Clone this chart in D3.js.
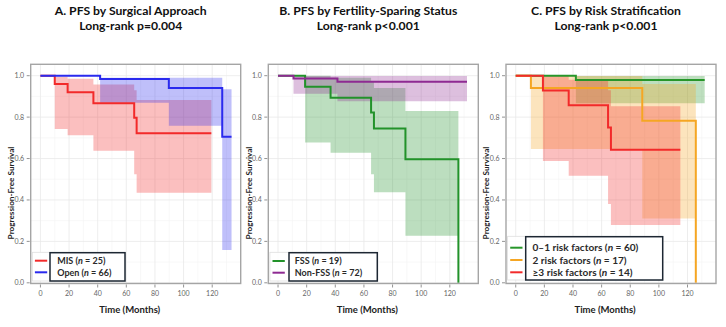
<!DOCTYPE html>
<html>
<head>
<meta charset="utf-8">
<script src="https://cdn.jsdelivr.net/npm/d3@7"></script>
<style>
  body { margin: 0; background: #fff; }
  svg { display: block; font-family: Lato, "Open Sans", sans-serif; }
  .km-tick { font-size: 7px; fill: #666; }
  .km-bold { font-weight: 700; fill: #222; }
</style>
</head>
<body>
<div id="km-container"></div>
<script>
// ---- data ----
const xTicks = [0, 20, 40, 60, 80, 100, 120];
const yTicks = [0, 0.2, 0.4, 0.6, 0.8, 1.0];

// A. surgical approach
const misTimes = [0, 10, 19, 37, 65.5, 67.2];
const misSurv = [1, 0.96, 0.92, 0.867, 0.797, 0.722];
const misEnd = 119.4;
const misCiTimes = [10, 19, 37, 65.5, 67.2];
const misCiLow = [0.743, 0.713, 0.638, 0.524, 0.435];
const misCiHigh = [0.995, 0.985, 0.958, 0.93, 0.883];

const openTimes = [0, 41.7, 89.7, 127];
const openSurv = [1, 0.984, 0.94, 0.705];
const openEnd = 133.5;
const openCiTimes = [41.7, 89.7, 127];
const openCiLow = [0.869, 0.758, 0.158];
const openCiHigh = [0.99, 0.99, 0.935];

// B. fertility-sparing
const fssTimes = [0, 18.9, 36.7, 65, 67, 89, 126];
const fssSurv = [1, 0.947, 0.894, 0.822, 0.745, 0.596, 0];
const fssEnd = 126;
const fssCiTimes = [18.9, 36.7, 65, 67, 89];
const fssCiLow = [0.678, 0.628, 0.524, 0.437, 0.227];
const fssCiHigh = [1.0, 0.99, 0.97, 0.94, 0.83];

const nonFssTimes = [0, 10.8, 41.5];
const nonFssSurv = [1, 0.986, 0.971];
const nonFssEnd = 132;
const nonFssCiTimes = [10.8, 41.5];
const nonFssCiLow = [0.913, 0.877];
const nonFssCiHigh = [0.998, 0.998];

// C. risk stratification
const lowRiskTimes = [0, 42];
const lowRiskSurv = [1, 0.979];
const lowRiskEnd = 132;
const lowRiskCiTimes = [42];
const lowRiskCiLow = [0.867];
const lowRiskCiHigh = [0.998];

const midRiskTimes = [0, 10.6, 88.4, 125.8];
const midRiskSurv = [1, 0.941, 0.783, 0];
const midRiskEnd = 125.8;
const midRiskCiTimes = [10.6, 88.4];
const midRiskCiLow = [0.646, 0.311];
const midRiskCiHigh = [0.998, 0.96];

const highRiskTimes = [0, 19, 37, 64.5, 66.5];
const highRiskSurv = [1, 0.929, 0.857, 0.75, 0.643];
const highRiskEnd = 115;
const highRiskCiTimes = [19, 37, 64.5, 66.5];
const highRiskCiLow = [0.588, 0.517, 0.38, 0.279];
const highRiskCiHigh = [0.998, 0.98, 0.93, 0.853];

// ---- layout ----
const width = 726;
const height = 327;
const frameWidth = 210;
const frameTop = 64.3;
const frameBottom = 283.5;
const frameLefts = [30.7, 268.3, 506];

function series (name, n, color, times, surv, end, ciTimes, ciLow, ciHigh) {
    return { name, n, color, times, surv, end, ciTimes, ciLow, ciHigh };
}

const panels = [
    {
        title: 'A. PFS by Surgical Approach',
        subtitle: 'Long-rank p=0.004',
        legendFont: 9,
        legendBox: [19.3, 94.3, 252.7, 281],
        legendRows: [260.7, 272.3],
        series: [
            series('MIS', 25, '#f22a2a', misTimes, misSurv, misEnd, misCiTimes, misCiLow, misCiHigh),
            series('Open', 66, '#2a2aee', openTimes, openSurv, openEnd, openCiTimes, openCiLow, openCiHigh)
        ]
    },
    {
        title: 'B. PFS by Fertility-Sparing Status',
        subtitle: 'Long-rank p<0.001',
        legendFont: 9,
        legendBox: [20.7, 109, 252.7, 281],
        legendRows: [261, 272.7],
        series: [
            series('FSS', 19, '#22922a', fssTimes, fssSurv, fssEnd, fssCiTimes, fssCiLow, fssCiHigh),
            series('Non-FSS', 72, '#8e2a92', nonFssTimes, nonFssSurv, nonFssEnd, nonFssCiTimes, nonFssCiLow, nonFssCiHigh)
        ]
    },
    {
        title: 'C. PFS by Risk Stratification',
        subtitle: 'Long-rank p<0.001',
        legendFont: 10.1,
        legendBox: [19.7, 156.7, 236.7, 280],
        legendRows: [247.7, 260, 272.3],
        series: [
            series('0\u20131 risk factors', 60, '#27962a', lowRiskTimes, lowRiskSurv, lowRiskEnd, lowRiskCiTimes, lowRiskCiLow, lowRiskCiHigh),
            series('2 risk factors', 17, '#f5a623', midRiskTimes, midRiskSurv, midRiskEnd, midRiskCiTimes, midRiskCiLow, midRiskCiHigh),
            series('\u22653 risk factors', 14, '#f22a2a', highRiskTimes, highRiskSurv, highRiskEnd, highRiskCiTimes, highRiskCiLow, highRiskCiHigh)
        ]
    }
];

const svg = d3.select('#km-container').append('svg')
    .attr('width', width)
    .attr('height', height);

const yScale = d3.scaleLinear().domain([0, 1.055]).range([282.8, frameTop]);

function drawPanel (panel, fx) {
    const g = svg.append('g');
    const xScale = d3.scaleLinear().domain([-6.8, 139.9]).range([fx, fx + frameWidth]);

    // grid
    const minorX = d3.range(10, 140, 20);
    const minorY = d3.range(0.1, 1.05, 0.2);
    g.selectAll('.km-minor-x').data(minorX).enter().append('line')
        .attr('x1', d => xScale(d)).attr('x2', d => xScale(d))
        .attr('y1', frameTop).attr('y2', frameBottom)
        .attr('stroke', '#f4f4f4').attr('stroke-width', 0.6);
    g.selectAll('.km-minor-y').data(minorY).enter().append('line')
        .attr('x1', fx).attr('x2', fx + frameWidth)
        .attr('y1', d => yScale(d)).attr('y2', d => yScale(d))
        .attr('stroke', '#f4f4f4').attr('stroke-width', 0.6);
    g.selectAll('.km-grid-x').data(xTicks).enter().append('line')
        .attr('x1', d => xScale(d)).attr('x2', d => xScale(d))
        .attr('y1', frameTop).attr('y2', frameBottom)
        .attr('stroke', '#e9e9e9').attr('stroke-width', 0.8);
    g.selectAll('.km-grid-y').data(yTicks).enter().append('line')
        .attr('x1', fx).attr('x2', fx + frameWidth)
        .attr('y1', d => yScale(d)).attr('y2', d => yScale(d))
        .attr('stroke', '#e9e9e9').attr('stroke-width', 0.8);

    // confidence bands
    const area = d3.area()
        .curve(d3.curveStepAfter)
        .x(d => xScale(d.t))
        .y0(d => yScale(d.lo))
        .y1(d => yScale(d.hi));
    panel.series.forEach(s => {
        const pts = s.ciTimes.map((t, i) => ({ t, lo: s.ciLow[i], hi: s.ciHigh[i] }));
        const last = pts[pts.length - 1];
        pts.push({ t: s.end, lo: last.lo, hi: last.hi });
        g.append('path')
            .attr('d', area(pts))
            .attr('fill', s.color)
            .attr('fill-opacity', 0.3);
    });

    // survival curves
    const line = d3.line()
        .curve(d3.curveStepAfter)
        .x(d => xScale(d.t))
        .y(d => yScale(d.s));
    panel.series.forEach(s => {
        const pts = s.times.map((t, i) => ({ t, s: s.surv[i] }));
        pts.push({ t: s.end, s: s.surv[s.surv.length - 1] });
        g.append('path')
            .attr('d', line(pts))
            .attr('fill', 'none')
            .attr('stroke', s.color)
            .attr('stroke-width', 2);
    });

    // frame
    g.append('rect')
        .attr('x', fx).attr('y', frameTop)
        .attr('width', frameWidth).attr('height', frameBottom - frameTop)
        .attr('fill', 'none').attr('stroke', '#a5a5a5').attr('stroke-width', 1.4);

    // ticks
    g.selectAll('.km-ytick').data(yTicks).enter().append('line')
        .attr('x1', fx - 4).attr('x2', fx - 1)
        .attr('y1', d => yScale(d)).attr('y2', d => yScale(d))
        .attr('stroke', '#777').attr('stroke-width', 0.8);
    g.selectAll('.km-ylabel').data(yTicks).enter().append('text')
        .attr('class', 'km-tick')
        .attr('x', fx - 6.5)
        .attr('y', d => yScale(d) + 2.4)
        .attr('text-anchor', 'end')
        .text(d => d3.format('.1f')(d));
    g.selectAll('.km-xtick').data(xTicks).enter().append('line')
        .attr('x1', d => xScale(d)).attr('x2', d => xScale(d))
        .attr('y1', frameBottom + 1).attr('y2', frameBottom + 4)
        .attr('stroke', '#777').attr('stroke-width', 0.8);
    g.selectAll('.km-xlabel').data(xTicks).enter().append('text')
        .attr('class', 'km-tick')
        .attr('x', d => xScale(d))
        .attr('y', 295.8)
        .attr('text-anchor', 'middle')
        .text(d => d);

    // axis titles
    g.append('text')
        .attr('class', 'km-bold')
        .attr('transform', `translate(${fx - 16.8},193) rotate(-90)`)
        .attr('text-anchor', 'middle')
        .style('font-size', '8.2px')
        .text('Progression-Free Survival');
    g.append('text')
        .attr('class', 'km-bold')
        .attr('x', fx + 99).attr('y', 312.5)
        .attr('text-anchor', 'middle')
        .style('font-size', '9.5px')
        .text('Time (Months)');

    // titles
    g.append('text')
        .attr('class', 'km-bold')
        .attr('x', fx + 100).attr('y', 15)
        .attr('text-anchor', 'middle')
        .style('font-size', '12.2px')
        .style('fill', '#111')
        .text(panel.title);
    g.append('text')
        .attr('class', 'km-bold')
        .attr('x', fx + 100).attr('y', 29.8)
        .attr('text-anchor', 'middle')
        .style('font-size', '12.2px')
        .style('fill', '#111')
        .text(panel.subtitle);

    // legend
    const [bx0, bx1, by0, by1] = panel.legendBox;
    g.append('rect')
        .attr('x', fx + 1.6).attr('y', by0 - 0.4)
        .attr('width', bx1 - 1.6).attr('height', by1 - by0 + 0.4)
        .attr('fill', '#fff').attr('fill-opacity', 0.85)
        .attr('stroke', '#dedede').attr('stroke-width', 0.8);
    g.append('rect')
        .attr('x', fx + bx0).attr('y', by0)
        .attr('width', bx1 - bx0).attr('height', by1 - by0)
        .attr('fill', '#fff')
        .attr('stroke', '#1d2733').attr('stroke-width', 1.5);
    panel.series.forEach((s, i) => {
        const y = panel.legendRows[i];
        g.append('line')
            .attr('x1', fx + 4.2).attr('x2', fx + 16.5)
            .attr('y1', y).attr('y2', y)
            .attr('stroke', s.color).attr('stroke-width', 2);
        const t = g.append('text')
            .attr('class', 'km-bold')
            .attr('x', fx + 26.5).attr('y', y + panel.legendFont * 0.36)
            .style('font-size', panel.legendFont + 'px')
            .style('fill', '#2a2a2a');
        t.append('tspan').text(`${s.name} (`);
        t.append('tspan').style('font-style', 'italic').text('n');
        t.append('tspan').text(` = ${s.n})`);
    });
}

panels.forEach((panel, i) => drawPanel(panel, frameLefts[i]));
</script>
</body>
</html>
